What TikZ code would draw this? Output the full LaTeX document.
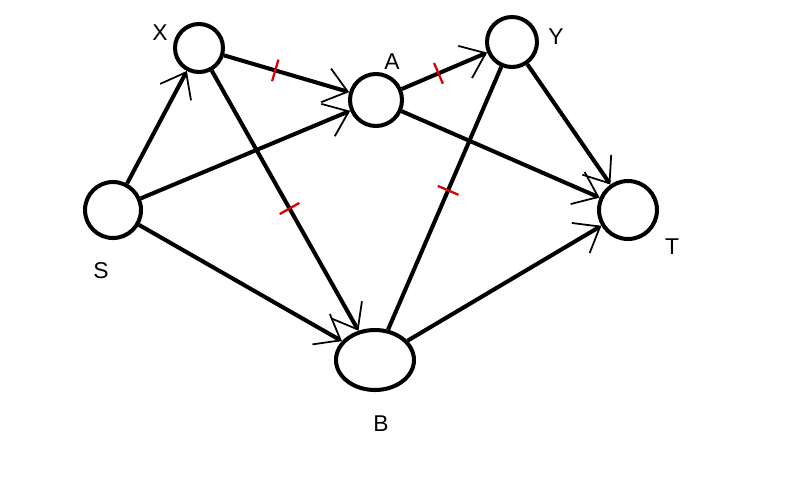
\documentclass[tikz,border=0pt]{standalone}
\usepackage{fontspec}
\setmainfont{Liberation Sans}
\usepackage{tikz}
\usetikzlibrary{arrows.meta,shapes.geometric}

\begin{document}
\begin{tikzpicture}[x=0.02cm, y=-0.02cm,
      vtx/.style={draw, circle, line width=2.3pt, inner sep=0pt},
      lbl/.style={font=\fontsize{13}{15}\selectfont},
      edge/.style={line width=2.3pt},
      arr/.style={edge, -{Straight Barb[length=4.5mm, width=7mm, line width=1pt]}},
      redcut/.style={draw=red!85!black, line width=1.3pt, shape=rectangle,
                     inner sep=0pt, minimum width=0pt, minimum height=0.45cm, sloped}]
    \fill[white] (0,0) rectangle (789,488);
    % vertices
    \node[vtx, minimum size=1.12cm] (s) at (113,210) {};
    \node[vtx, minimum size=0.96cm] (x) at (199,48) {};
    \node[vtx, minimum size=1.04cm] (a) at (376,100) {};
    \node[vtx, minimum size=1.0cm] (y) at (512,42) {};
    \node[vtx, minimum size=1.16cm] (t) at (628,210) {};
    \node[draw, ellipse, line width=2.3pt, minimum width=1.56cm, minimum height=1.2cm] (b) at (375,360) {};
    % names
    \node[lbl] (ls) at (101,271) {S};
    \node[lbl] (lx) at (160,33) {X};
    \node[lbl] (la) at (392,62) {A};
    \node[lbl] (ly) at (556,37) {Y};
    \node[lbl] (lt) at (672,247) {T};
    \node[lbl] (lb) at (381,424) {B};
    % edges
    \draw[arr] (s) -- (x);
    \draw[arr] (s) -- (a);
    \draw[arr] (s) -- (b);
    \draw[arr] (x) -- node[redcut, pos=0.41] {} (a);
    \draw[arr] (x) -- node[redcut, pos=0.53] {} (b);
    \draw[arr] (a) -- node[redcut, pos=0.43] {} (y);
    \draw[arr] (a) -- (t);
    \draw[arr] (y) -- (t);
    \draw[edge] (b) -- node[redcut, pos=0.53] {} (y);
    \draw[arr] (b) -- (t);
\end{tikzpicture}
\end{document}
